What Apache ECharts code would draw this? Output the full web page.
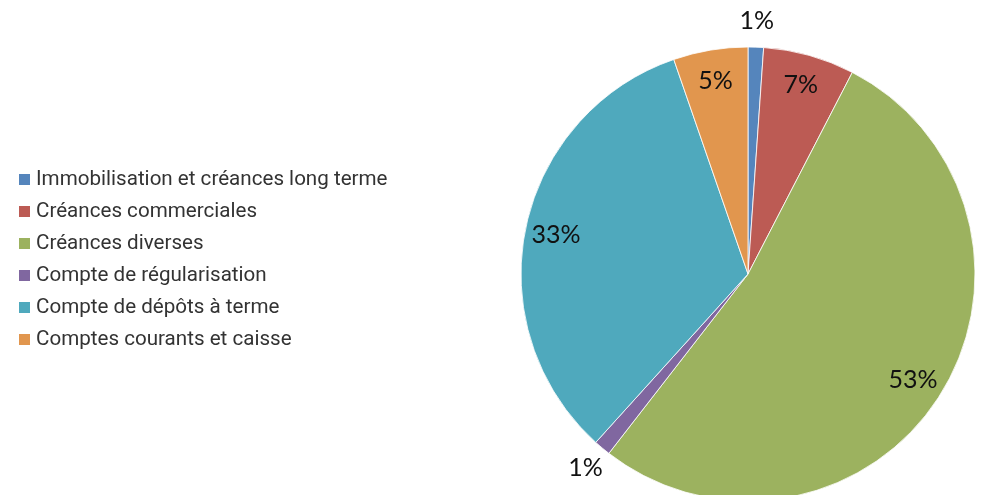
<!DOCTYPE html>
<html>
<head>
<meta charset="utf-8">
<script src="https://cdn.jsdelivr.net/npm/echarts@6/dist/echarts.min.js"></script>
<style>
html,body{margin:0;padding:0;background:#fff;}
#chart{width:986px;height:495px;}
</style>
</head>
<body>
<div id="chart"></div>
<script>
const categories = [
  'Immobilisation et créances long terme',
  'Créances commerciales',
  'Créances diverses',
  'Compte de régularisation',
  'Compte de dépôts à terme',
  'Comptes courants et caisse'
];
const values = [1.1, 6.5, 52.9, 1.2, 33.0, 5.3];
const colors = ['#5585BC', '#BC5B54', '#9CB25F', '#8067A0', '#4FA9BD', '#E1964E'];
const outsideLabel = [true, false, false, true, false, false];

const R = 227;
const center = [748, 274];
const fmt = p => Math.round(p.value) + '%';
const labelFont = { fontFamily: 'Lato', fontSize: 25, color: '#111' };

const mainData = categories.map((c, i) => ({ name: c, value: values[i], itemStyle: { color: colors[i] } }));
const insideData = categories.map((c, i) => ({
  name: c, value: values[i],
  label: { show: !outsideLabel[i] }
}));
const outsideData = categories.map((c, i) => ({
  name: c, value: values[i],
  label: { show: outsideLabel[i] }
}));

const chart = echarts.init(document.getElementById('chart'));
chart.setOption({
  animation: false,
  legend: {
    orient: 'vertical',
    left: 17,
    top: 169,
    padding: 0,
    data: categories,
    icon: 'rect',
    itemWidth: 13,
    itemHeight: 13,
    itemGap: 11,
    textStyle: { fontFamily: 'Roboto', fontSize: 20.6, color: '#333' },
    selectedMode: false
  },
  series: [
    {
      type: 'pie',
      center: center,
      radius: [0, R],
      startAngle: 90,
      clockwise: true,
      avoidLabelOverlap: false,
      label: { show: false },
      labelLine: { show: false },
      itemStyle: { borderColor: '#fff', borderWidth: 0.8 },
      emphasis: { disabled: true },
      data: mainData
    },
    {
      type: 'pie',
      center: center,
      radius: [R * 0.7, R],
      startAngle: 90,
      silent: true,
      avoidLabelOverlap: false,
      itemStyle: { color: 'rgba(0,0,0,0)' },
      label: Object.assign({ position: 'inside', formatter: fmt }, labelFont),
      labelLine: { show: false },
      emphasis: { disabled: true },
      data: insideData
    },
    {
      type: 'pie',
      center: center,
      radius: [R + 2, R + 44],
      startAngle: 90,
      silent: true,
      avoidLabelOverlap: false,
      itemStyle: { color: 'rgba(0,0,0,0)' },
      label: Object.assign({ position: 'inside', formatter: fmt }, labelFont),
      labelLine: { show: false },
      emphasis: { disabled: true },
      data: outsideData
    }
  ]
});
</script>
</body>
</html>
